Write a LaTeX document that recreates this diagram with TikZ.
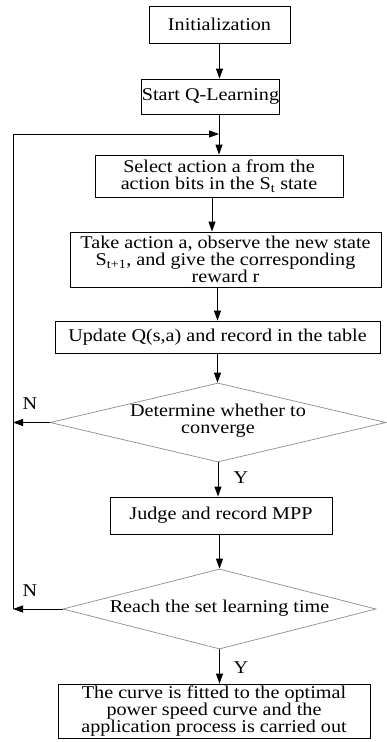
\documentclass[tikz,border=0pt]{standalone}
\usepackage{fontspec}
\setmainfont{Liberation Serif}[FakeStretch=1.12]
\usetikzlibrary{arrows.meta,shapes.geometric}
\begin{document}
\begin{tikzpicture}[x=1pt,y=-1pt,
  txt/.style={font=\fontsize{18}{17}\selectfont},
  box/.style={draw,line width=0.9pt,inner sep=0pt,align=center,txt},
  dia/.style={draw=black!45,line width=0.7pt,shape=diamond,inner sep=0pt},
  arr/.style={-{Triangle[length=10pt,width=7pt]},line width=0.9pt},
  lbl/.style={txt,inner sep=0pt}]
\useasboundingbox (0,0) rectangle (386,742);
\node[box,minimum width=141,minimum height=37] (init) at (219.5,24.5) {Initialization};
\node[box,minimum width=135,minimum height=35] (start) at (210.5,96.5) {Start Q-Learning};
\node[box,minimum width=248,minimum height=42] (select) at (219,176) {Select action a from the\\action bits in the S\textsubscript{t} state};
\node[box,minimum width=311,minimum height=55] (take) at (225.5,259.5) {Take action a, observe the new state\\S\textsubscript{t+1}, and give the corresponding\\reward r};
\node[box,minimum width=325,minimum height=32] (update) at (217.5,337) {Update Q(s,a) and record in the table};
\node[dia,minimum width=336,minimum height=79] (d1) at (218,422.5) {};
\node[lbl,align=center] (d1t) at (218,421) {Determine whether to\\converge};
\node[box,minimum width=222,minimum height=37] (judge) at (221,515.5) {Judge and record MPP};
\node[dia,minimum width=313,minimum height=80] (d2) at (219.5,609) {};
\node[lbl] (d2t) at (219.5,608) {Reach the set learning time};
\node[box,minimum width=312,minimum height=54] (final) at (214,711) {The curve is fitted to the optimal\\power speed curve and the\\application process is carried out};
\coordinate (lt) at (13,134);
\coordinate (lb) at (13,609);
\node[lbl] (n1) at (30,404) {N};
\node[lbl] (n2) at (30,591) {N};
\node[lbl] (y1) at (241,478) {Y};
\node[lbl] (y2) at (241,668) {Y};
\draw[arr] (init.south) -- (init.south |- start.north);
\draw[arr] (select.north |- start.south) -- (select.north);
\draw[arr] ([xshift=-7pt]select.south) -- ([xshift=-7pt]select.south |- take.north);
\draw[arr] (update.north |- take.south) -- (update.north);
\draw[arr] (update.south) -- (update.south |- d1.north);
\draw[arr] (d1.south) -- (d1.south |- judge.north);
\draw[arr] (d2.north |- judge.south) -- (d2.north);
\draw[arr] (d2.south) -- (d2.south |- final.north);
\draw[arr] (d1.west) -- (d1.west -| lt);
\draw[arr] (d2.west) -- (lb);
\draw[arr] (lb) -- (lt) -- (select.north |- lt);
\end{tikzpicture}
\end{document}
